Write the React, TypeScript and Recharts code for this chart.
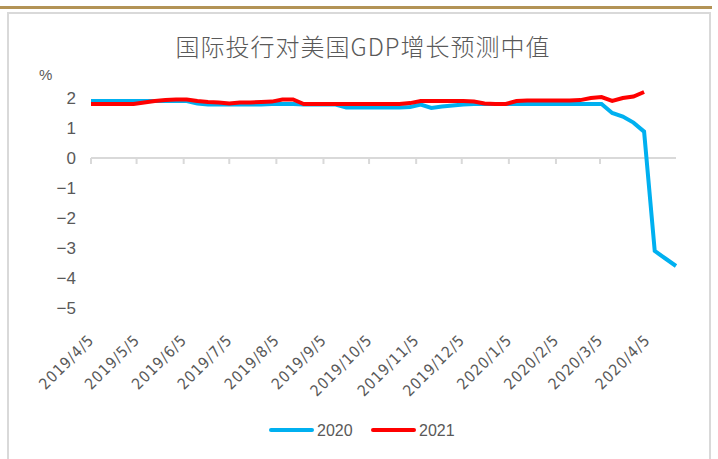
import React from 'react';
import { LineChart, Line, XAxis, YAxis, ReferenceLine, Legend } from 'recharts';

const dates = [
  '2019/4/5', '2019/4/12', '2019/4/19', '2019/4/26', '2019/5/3', '2019/5/10', '2019/5/17', '2019/5/24', '2019/5/31',
  '2019/6/7', '2019/6/14', '2019/6/21', '2019/6/28', '2019/7/5', '2019/7/12', '2019/7/19', '2019/7/26',
  '2019/8/2', '2019/8/9', '2019/8/16', '2019/8/23', '2019/8/30', '2019/9/6', '2019/9/13', '2019/9/20', '2019/9/27',
  '2019/10/4', '2019/10/11', '2019/10/18', '2019/10/25', '2019/11/1', '2019/11/8', '2019/11/15', '2019/11/22', '2019/11/29',
  '2019/12/6', '2019/12/13', '2019/12/20', '2019/12/27', '2020/1/3', '2020/1/10', '2020/1/17', '2020/1/24', '2020/1/31',
  '2020/2/7', '2020/2/14', '2020/2/21', '2020/2/28', '2020/3/6', '2020/3/13', '2020/3/20', '2020/3/27',
  '2020/4/3', '2020/4/10', '2020/4/17', '2020/4/24',
];

const gdp2020 = [
  1.9, 1.9, 1.9, 1.9, 1.9, 1.9, 1.9, 1.9, 1.9,
  1.9, 1.82, 1.78, 1.78, 1.78, 1.78, 1.78, 1.78,
  1.8, 1.8, 1.8, 1.78, 1.78, 1.78, 1.78, 1.68, 1.68,
  1.68, 1.68, 1.68, 1.68, 1.7, 1.78, 1.67, 1.72, 1.75,
  1.78, 1.8, 1.8, 1.8, 1.8, 1.8, 1.8, 1.8, 1.8,
  1.8, 1.8, 1.8, 1.8, 1.8, 1.5, 1.38, 1.18,
  0.88, -3.1, -3.35, -3.6,
];

const gdp2021: (number | null)[] = [
  1.8, 1.8, 1.8, 1.8, 1.8, 1.85, 1.9, 1.93, 1.95,
  1.95, 1.9, 1.87, 1.85, 1.82, 1.85, 1.85, 1.87,
  1.88, 1.95, 1.95, 1.8, 1.8, 1.8, 1.8, 1.8, 1.8,
  1.8, 1.8, 1.8, 1.8, 1.83, 1.9, 1.9, 1.9, 1.9,
  1.9, 1.88, 1.82, 1.8, 1.8, 1.9, 1.92, 1.92, 1.92,
  1.92, 1.92, 1.93, 2.0, 2.03, 1.9, 2.0, 2.05,
  2.2, null, null, null,
];

const monthTicks = [
  '2019/4/5', '2019/5/5', '2019/6/5', '2019/7/5', '2019/8/5', '2019/9/5', '2019/10/5',
  '2019/11/5', '2019/12/5', '2020/1/5', '2020/2/5', '2020/3/5', '2020/4/5',
];

const yTicks = [-5, -4, -3, -2, -1, 0, 1, 2];

const seriesNames = ['2020', '2021'];
const seriesColors = ['#00B0F0', '#FF0000'];

const DAY = 86400000;
const parse = (s: string) => {
  const [y, m, d] = s.split('/').map(Number);
  return Date.UTC(y, m - 1, d);
};
const origin = parse(dates[0]);
const toDay = (s: string) => Math.round((parse(s) - origin) / DAY);

const data = dates.map((d, i) => ({
  day: toDay(d),
  v2020: gdp2020[i],
  v2021: gdp2021[i],
}));
const tickDays = monthTicks.map(toDay);
const lastDay = toDay(dates[dates.length - 1]);
const labelByDay: Record<number, string> = {};
monthTicks.forEach((t) => { labelByDay[toDay(t)] = t; });

const GRAY = '#595959';
const AXIS = '#D9D9D9';

const XTick = (props: any) => {
  const { x, y, payload } = props;
  const tx = x + 4;
  const ty = y + 33;
  return (
    <text x={tx} y={ty} transform={`rotate(-45, ${tx}, ${ty})`} textAnchor="end"
      fill={GRAY} fontSize={15.5} letterSpacing={0.9} fontFamily="'DejaVu Sans Condensed', Roboto, sans-serif">
      {labelByDay[payload.value]}
    </text>
  );
};

const YTick = (props: any) => {
  const { y, payload } = props;
  const v = payload.value;
  const label = v < 0 ? '\u2212' + Math.abs(v) : String(v);
  return (
    <text x={76} y={y} dy="0.36em" textAnchor="end" fill={GRAY} fontSize={17}
      fontFamily="'Liberation Sans', Arial, sans-serif">
      {label}
    </text>
  );
};

const LegendContent = () => (
  <svg width={718} height={30}>
    <line x1={271} x2={312} y1={15} y2={15} stroke={seriesColors[0]} strokeWidth={4} strokeLinecap="round" />
    <text x={317} y={21} fill={GRAY} fontSize={16} fontFamily="'Liberation Sans', Arial, sans-serif">{seriesNames[0]}</text>
    <line x1={373} x2={414} y1={15} y2={15} stroke={seriesColors[1]} strokeWidth={4} strokeLinecap="round" />
    <text x={419} y={21} fill={GRAY} fontSize={16} fontFamily="'Liberation Sans', Arial, sans-serif">{seriesNames[1]}</text>
  </svg>
);

export default function App() {
  return (
    <div style={{ position: 'absolute', left: 0, top: 0, width: 718, height: 459, background: '#fff', overflow: 'hidden' }}>
      <div style={{ position: 'absolute', left: 0, top: 6, width: 712, height: 3, background: '#B39356' }} />
      <div style={{ position: 'absolute', left: 7, top: 12, width: 700, height: 460, border: '2px solid #D9D9D9' }} />
      <div style={{ position: 'absolute', left: 0, top: 30, width: 718, textAlign: 'center', paddingLeft: 4, color: GRAY,
        fontFamily: "'Noto Sans CJK SC', sans-serif", fontSize: 24, fontWeight: 300, letterSpacing: 1, lineHeight: '32px' }}>
        国际投行对美国GDP增长预测中值
      </div>
      <div style={{ position: 'absolute', left: 39, top: 66, color: GRAY, fontFamily: "'Liberation Sans', Arial, sans-serif", fontSize: 15 }}>
        %
      </div>
      <div style={{ position: 'absolute', left: 0, top: 0 }}>
        <LineChart width={718} height={459} data={data} margin={{ top: 68, right: 42, bottom: 121, left: 31 }}>
          <XAxis dataKey="day" type="number" domain={[0, lastDay]} ticks={tickDays} interval={0}
            axisLine={false} tickLine={false} tickSize={0} tickMargin={0} height={30} tick={<XTick />} />
          <YAxis type="number" domain={[-5, 3]} ticks={yTicks} interval={0} axisLine={false} tickLine={false}
            width={60} tick={<YTick />} />
          <ReferenceLine y={0} stroke={AXIS} strokeWidth={2} ifOverflow="extendDomain" />
          {tickDays.map((d) => (
            <ReferenceLine key={d} segment={[{ x: d, y: 0 }, { x: d, y: -0.2 }]} stroke={AXIS} strokeWidth={2} />
          ))}
          <Line type="linear" dataKey="v2020" name={seriesNames[0]} stroke={seriesColors[0]} strokeWidth={4}
            dot={false} activeDot={false} isAnimationActive={false} />
          <Line type="linear" dataKey="v2021" name={seriesNames[1]} stroke={seriesColors[1]} strokeWidth={4}
            dot={false} activeDot={false} isAnimationActive={false} connectNulls={false} />
          <Legend verticalAlign="middle" align="center" content={<LegendContent />}
            wrapperStyle={{ position: 'absolute', left: 0, top: 415, width: 718 }} />
        </LineChart>
      </div>
    </div>
  );
}
